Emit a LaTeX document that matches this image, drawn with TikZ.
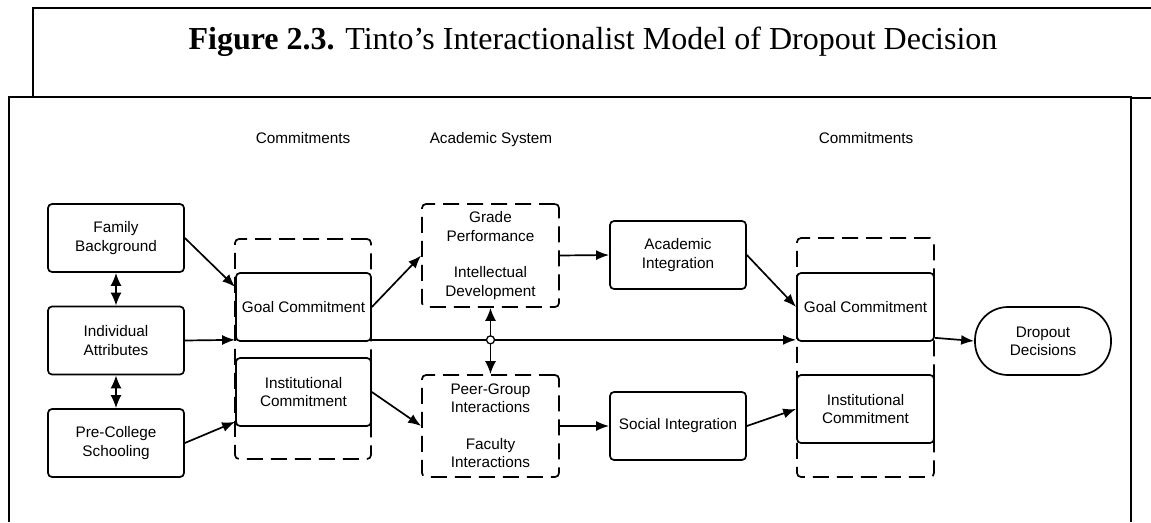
\documentclass[tikz,border=0pt]{standalone}
\usepackage{fontspec}
\setmainfont{Liberation Serif}
\newfontfamily\diagfont{Liberation Sans}
\usetikzlibrary{arrows.meta,calc}

\tikzset{
  box/.style={draw, line width=1.7pt, rounded corners=4pt, minimum width=136pt,
    minimum height=68pt, inner sep=0pt, align=center,
    font=\diagfont\fontsize{15.3}{18.3}\selectfont},
  dashbox/.style={box, dash pattern=on 16pt off 8pt},
  group/.style={draw, line width=1.7pt, rounded corners=4pt,
    dash pattern=on 16pt off 8pt, inner sep=0pt},
  heading/.style={anchor=base, font=\diagfont\fontsize{15.3}{18.3}\selectfont},
  arr/.style={-{Latex[length=13pt,width=10pt]}, line width=1.7pt},
  dblarr/.style={{Latex[length=13pt,width=11pt]}-{Latex[length=13pt,width=11pt]}, line width=1.7pt},
  frame/.style={line width=2.2pt}
}

\begin{document}
\begin{tikzpicture}[x=1pt,y=-1pt]
  \useasboundingbox (0,0) rectangle (1151,522);

  % Draw the frames
  \draw[frame] (33,97) -- (33,8) -- (1151,8);
  \draw[frame] (9,522) -- (9,97) -- (1131,97) -- (1131,522);
  \draw[frame] (1131,98) -- (1151,98);

  % Title
  \node[anchor=base, font=\fontsize{32}{38}\selectfont] (title) at (593,49)
    {\textbf{Figure 2.3.} Tinto’s Interactionalist Model of Dropout Decision};

  % Column headings
  \node[heading] (hcomL) at (303,143) {Commitments};
  \node[heading] (hacad) at (491,143) {Academic System};
  \node[heading] (hcomR) at (866,143) {Commitments};

  % Dashed commitment groups
  \node[group, minimum width=136pt, minimum height=220pt] (grpL) at (303,349) {};
  \node[group, minimum width=137pt, minimum height=239pt] (grpR) at (865.5,357.5) {};

  % Background boxes
  \node[box] (fam) at (116,238) {Family\\Background};
  \node[box] (ind) at (116,340.5) {Individual\\Attributes};
  \node[box] (pre) at (116,443) {Pre-College\\Schooling};

  % Commitment boxes
  \node[box, minimum width=135pt] (gcL) at (303.5,307) {Goal Commitment};
  \node[box, minimum width=135pt] (icL) at (303.5,392) {Institutional\\Commitment};
  \node[box, minimum width=137pt] (gcR) at (865.5,307) {Goal Commitment};
  \node[box, minimum width=137pt] (icR) at (865.5,409) {Institutional\\Commitment};

  % Academic and social systems
  \node[dashbox, minimum width=137pt, minimum height=103pt] (acad) at (490.5,255.5)
    {Grade\\Performance\\[18.3pt]Intellectual\\Development};
  \node[dashbox, minimum width=137pt, minimum height=102pt] (soc) at (490.5,426)
    {Peer-Group\\Interactions\\[18.3pt]Faculty\\Interactions};
  \node[box] (ai) at (678,255) {Academic\\Integration};
  \node[box] (si) at (678,426) {Social Integration};

  % Outcome
  \node[box, rounded corners=33pt] (drop) at (1043,341) {Dropout\\Decisions};

  % Draw the arrows
  \draw[dblarr] (fam.south) -- (ind.north);
  \draw[dblarr] (ind.south) -- (pre.north);
  \draw[arr] (fam.east) -- ([yshift=20pt]gcL.west);
  \draw[arr] (ind.east) -- ([yshift=2pt]gcL.south west);
  \draw[arr] (pre.east) -- ([yshift=5pt]icL.south west);
  \draw[arr] (gcL.east) -- (acad.west);
  \draw[arr] (icL.east) -- (soc.west);
  \draw[arr] (acad.east) -- (ai.west);
  \draw[arr] (soc.east) -- (si.west);
  \draw[arr] (ai.east) -- (gcR.west);
  \draw[arr] (si.east) -- (icR.west);
  \draw[arr] ([yshift=2pt]gcL.south east) -- ([yshift=2pt]gcR.south west);
  \draw[arr] ([yshift=4pt]gcR.south east) -- (drop.west);
  \draw[dblarr] (acad.south) -- (soc.north);

  % Junction marker
  \coordinate (jn) at ($(acad.south |- gcL.south east)+(0,-2)$);
  \node[draw, circle, fill=white, line width=1.3pt, minimum size=8pt, inner sep=0pt] (jmark) at (jn) {};
\end{tikzpicture}
\end{document}
